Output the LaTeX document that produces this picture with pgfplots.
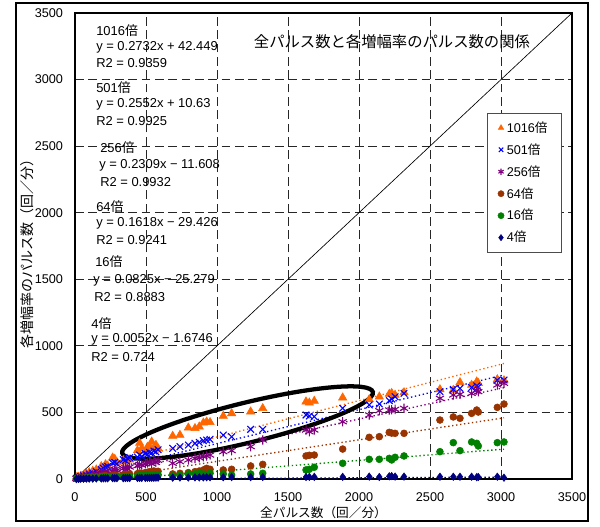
\documentclass[border=0pt]{standalone}
\usepackage{pgfplots}
\pgfplotsset{compat=1.18}
\usepackage{pgfplotstable}
\usepackage{fontspec}
\setmainfont{Liberation Sans}
\newfontfamily\cjk{Noto Sans CJK JP}
\usetikzlibrary{shapes.geometric}
\definecolor{corange}{RGB}{255,102,0}
\definecolor{cblue}{RGB}{0,0,255}
\definecolor{cpurple}{RGB}{128,0,128}
\definecolor{cbrown}{RGB}{153,51,0}
\definecolor{cgreen}{RGB}{0,128,0}
\definecolor{cnavy}{RGB}{0,0,128}

% x = total pulses; a=1016x, b=501x, c=256x, d=64x, e=16x, f=4x
\pgfplotstableread{
x a b c d e f
10 8 6 4 2 3 1
25 15 12 8 4 4 1
40 22 18 12 6 5 2
60 30 25 16 8 6 2
80 38 30 20 10 7 3
100 50 38 25 12 8 3
125 60 45 30 14 9 3
150 70 55 38 16 10 4
185 95 70 45 20 11 4
200 85 80 50 22 12 5
215 110 90 55 25 14 5
230 100 95 52 20 12 5
265 160 120 60 28 15 6
280 150 125 70 30 17 6
295 125 115 65 25 14 6
340 140 145 80 32 18 6
355 130 140 85 35 20 7
370 150 155 75 30 16 7
385 145 160 90 38 20 7
440 215 165 100 40 22 8
455 270 180 110 45 25 8
470 230 170 105 42 24 8
495 210 190 115 48 26 8
510 240 185 120 50 28 9
525 245 200 130 55 30 9
540 280 195 115 45 25 9
555 235 210 135 60 30 9
570 255 205 125 52 28 10
585 230 220 140 58 32 10
688 323 230 118 38 23 10
739 330 243 130 43 28 11
798 385 255 143 48 38 11
845 381 268 155 55 38 12
875 393 275 160 60 43 12
904 423 288 168 68 38 12
927 430 293 173 80 30 13
951 426 298 180 73 43 13
1044 473 330 205 68 38 13
1103 493 318 213 73 30 14
1237 506 373 243 98 38 14
1322 531 373 293 110 43 15
1627 581 481 368 173 68 15
1650 573 473 355 178 73 16
1685 586 468 368 180 88 16
1885 611 531 430 225 118 16
2072 598 556 481 313 148 18
2143 618 563 513 318 148 15
2213 638 588 518 350 155 20
2230 645 600 520 345 143 22
2254 631 618 523 343 163 18
2317 650 643 531 343 173 18
2570 673 656 606 443 205 17
2664 668 673 631 466 273 17
2711 726 681 636 456 213 17
2793 706 688 643 493 278 17
2829 731 700 668 518 268 14
2840 720 690 656 503 248 15
2974 748 743 706 538 273 17
3021 740 743 719 563 278 10
}\data

\begin{document}
\begin{tikzpicture}
\begin{axis}[
  scale only axis, width=372.75pt, height=349.5pt,
  xmin=0, xmax=3500, ymin=0, ymax=3500,
  xtick={0,500,...,3500}, ytick={0,500,...,3500},
  scaled ticks=false,
  /pgf/number format/1000 sep={},
  /pgf/number format/assume math mode=true,
  tick label style={font=\fontsize{9.5}{11}\selectfont},
  xticklabel style={yshift=-6.5pt},
  yticklabel style={xshift=-5.5pt},
  major tick length=0pt,
  grid=major,
  major grid style={black!85, line width=0.7pt, dash pattern=on 6.5pt off 3.5pt},
  axis line style={black, line width=0.8pt},
  xlabel={\cjk 全パルス数（回／分）},
  ylabel={\cjk 各増幅率のパルス数（回／分）},
  xlabel style={at={(axis description cs:0.5,-0.073)}, anchor=center, font=\fontsize{9.5}{11}\selectfont},
  ylabel style={at={(axis description cs:-0.0966,0.49)}, anchor=center, font=\fontsize{10.5}{12}\selectfont},
  legend style={at={(0.829,0.785)}, anchor=north west, draw=black!70, fill=white,
    font=\fontsize{9.5}{11}\selectfont, row sep=3pt, inner xsep=8pt, inner ysep=4pt,
    /tikz/every even column/.append style={column sep=2pt}},
  legend image post style={mark size=2.3pt},
  legend cell align=left,
]
\addplot[black, line width=0.5pt, forget plot] coordinates {(0,0) (3500,3500)};

\addplot[only marks, mark=triangle*, mark size=3.6pt, color=corange] table[x=x,y=a] {\data};
\addlegendentry{1016{\cjk 倍}}
\addplot[only marks, mark=x, mark size=3.5pt, color=cblue, mark options={line width=0.8pt}] table[x=x,y=b] {\data};
\addlegendentry{501{\cjk 倍}}
\addplot[only marks, mark=asterisk, mark size=3.5pt, color=cpurple, mark options={line width=0.8pt}] table[x=x,y=c] {\data};
\addlegendentry{256{\cjk 倍}}
\addplot[only marks, mark=*, mark size=2.6pt, color=cbrown] table[x=x,y=d] {\data};
\addlegendentry{64{\cjk 倍}}
\addplot[only marks, mark=*, mark size=2.6pt, color=cgreen] table[x=x,y=e] {\data};
\addlegendentry{16{\cjk 倍}}
\addplot[only marks, mark=diamond*, mark size=2.8pt, color=cnavy] table[x=x,y=f] {\data};
\addlegendentry{4{\cjk 倍}}

% trend lines
\addplot[corange, dotted, line width=1pt, forget plot] coordinates {(10,45.2) (3021,867.8)};
\addplot[cblue, dotted, line width=1pt, forget plot] coordinates {(10,13.2) (3021,781.6)};
\addplot[cpurple, dotted, line width=1pt, forget plot] coordinates {(10,-9.3) (3021,685.9)};
\addplot[cbrown, dotted, line width=1pt, forget plot] coordinates {(10,-27.8) (3021,459.4)};
\addplot[cgreen, dotted, line width=1pt, forget plot] coordinates {(10,-24.45) (3021,224.0)};
\addplot[cnavy, dotted, line width=1pt, forget plot] coordinates {(10,-1.62) (3021,14.0)};

% equations
\begin{scope}[every node/.style={anchor=west, inner sep=0pt, font=\fontsize{9.7}{11}\selectfont}]
\node at (axis cs:148,3365) {1016{\cjk 倍}};
\node at (axis cs:148,3245) {y = 0.2732x + 42.449};
\node at (axis cs:148,3125) {R2 = 0.9359};
\node at (axis cs:148,2937) {501{\cjk 倍}};
\node at (axis cs:148,2817) {y = 0.2552x + 10.63};
\node at (axis cs:148,2689) {R2 = 0.9925};
\node at (axis cs:176,2486) {256{\cjk 倍}};
\node at (axis cs:169,2358) {y = 0.2309x − 11.608};
\node at (axis cs:176,2231) {R2 = 0.9932};
\node at (axis cs:148,2043) {64{\cjk 倍}};
\node at (axis cs:148,1923) {y = 0.1618x − 29.426};
\node at (axis cs:148,1795) {R2 = 0.9241};
\node at (axis cs:141,1630) {16{\cjk 倍}};
\node at (axis cs:127,1495) {y = 0.0825x − 25.279};
\node at (axis cs:134,1367) {R2 = 0.8883};
\node at (axis cs:113,1164) {4{\cjk 倍}};
\node at (axis cs:113,1052) {y = 0.0052x − 1.6746};
\node at (axis cs:113,916) {R2 = 0.724};
\end{scope}

\node[font=\fontsize{11.5}{13}\selectfont\cjk] at (axis cs:2232,3282) {全パルス数と各増幅率のパルス数の関係};

\node[draw, ellipse, line width=3.2pt, minimum width=193.5pt, minimum height=30pt, inner sep=0pt, rotate=13.7] at (axis cs:1215,424) {};
\end{axis}
\draw[black, line width=0.8pt] ([shift={(-44.25pt,-31.5pt)}]current axis.south west) rectangle ([shift={(12pt,7.5pt)}]current axis.north east);
\pgfresetboundingbox
\path ([shift={(-56.25pt,-35.25pt)}]current axis.south west) rectangle ([shift={(21pt,9.75pt)}]current axis.north east);
\end{tikzpicture}
\end{document}
